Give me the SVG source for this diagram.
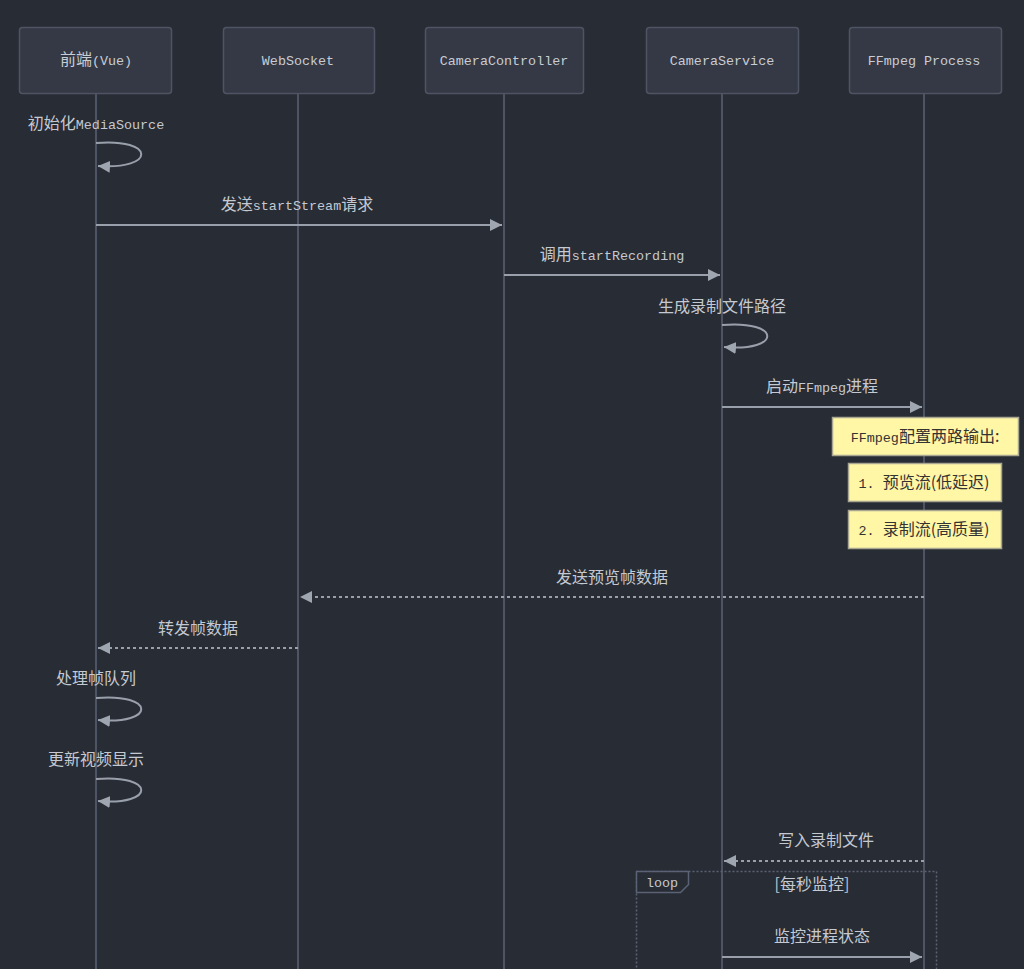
<svg xmlns="http://www.w3.org/2000/svg" width="1024" height="969" viewBox="0 0 1024 969">
<style>
.actor{fill:#353945;stroke:#4f5465;stroke-width:1.5}
.atext{font-family:"Liberation Mono","Noto Sans CJK SC",monospace;font-size:13.4px;fill:#c8ccd4;text-anchor:middle}
.life{stroke:#5c6275;stroke-width:1.5}
.lbl{font-family:"Noto Sans CJK SC","Liberation Mono",monospace;font-size:16px;fill:#c5c9d1;text-anchor:middle}
.lat{font-family:"Liberation Mono",monospace;font-size:13.4px}
.msg{stroke:#9aa0ab;stroke-width:2;fill:none}
.dash{stroke-dasharray:3,3}
.note{fill:#fff6a6;stroke:#a8a690;stroke-width:1.5}
.ntext{font-family:"Noto Sans CJK SC","Liberation Mono",monospace;font-size:16px;fill:#333333;text-anchor:middle}
.frame{fill:none;stroke:#5c6275;stroke-width:1.5;stroke-dasharray:2,2}
</style>
<defs>
<marker id="ah" viewBox="0 0 10 10" refX="10" refY="5" markerWidth="12" markerHeight="12" markerUnits="userSpaceOnUse" orient="auto">
<path d="M0,0 L10,5 L0,10 z" fill="#a0a6b0"/>
</marker>
</defs>
<rect width="1024" height="969" fill="#282c34"/>

<g id="lifelines">
<line class="life" x1="96" y1="93" x2="96" y2="969"/>
<line class="life" x1="298" y1="93" x2="298" y2="969"/>
<line class="life" x1="504" y1="93" x2="504" y2="969"/>
<line class="life" x1="722" y1="93" x2="722" y2="969"/>
<line class="life" x1="924" y1="93" x2="924" y2="969"/>
</g>

<g id="actor-frontend"><rect class="actor" x="19.5" y="27.5" width="152" height="66" rx="3"/><text class="atext" x="96" y="65"><tspan style="font-family:'Noto Sans CJK SC',sans-serif;font-size:16px">前端</tspan>(Vue)</text></g>
<g id="actor-websocket"><rect class="actor" x="223.5" y="27.5" width="151" height="66" rx="3"/><text class="atext" x="298" y="65">WebSocket</text></g>
<g id="actor-controller"><rect class="actor" x="425.5" y="27.5" width="158" height="66" rx="3"/><text class="atext" x="504" y="65">CameraController</text></g>
<g id="actor-service"><rect class="actor" x="646.5" y="27.5" width="152" height="66" rx="3"/><text class="atext" x="722" y="65">CameraService</text></g>
<g id="actor-ffmpeg"><rect class="actor" x="849.5" y="27.5" width="152" height="66" rx="3"/><text class="atext" x="924" y="65">FFmpeg Process</text></g>

<g id="loop-frame">
<rect class="frame" x="636.5" y="871.5" width="300" height="120"/>
<path d="M636.5,871.5 L688.5,871.5 L688.5,884.5 L680.5,892.5 L636.5,892.5 Z" fill="#282c34" stroke="#5c6275" stroke-width="1.5"/>
<text x="662" y="887" style="font-family:'Liberation Mono',monospace;font-size:13.4px;fill:#c5c9d1;text-anchor:middle">loop</text>
<text class="lbl" x="812" y="890">[每秒监控]</text>
</g>

<g id="notes">
<g id="note1"><rect class="note" x="832.5" y="417.5" width="186" height="38"/><text class="ntext" x="925" y="442"><tspan class="lat">FFmpeg</tspan>配置两路输出:</text></g>
<g id="note2"><rect class="note" x="848.5" y="463.5" width="153" height="38"/><text class="ntext" x="924" y="488"><tspan class="lat">1. </tspan>预览流(低延迟)</text></g>
<g id="note3"><rect class="note" x="848.5" y="510.5" width="153" height="38"/><text class="ntext" x="924" y="535"><tspan class="lat">2. </tspan>录制流(高质量)</text></g>
</g>

<g id="connectors">
<text class="lbl" x="96" y="129">初始化<tspan class="lat">MediaSource</tspan></text>
<path class="msg" d="M96,143 C156,138 156,170 98,166" marker-end="url(#ah)"/>

<text class="lbl" x="297" y="210">发送<tspan class="lat">startStream</tspan>请求</text>
<line class="msg" x1="96" y1="225" x2="502" y2="225" marker-end="url(#ah)"/>

<text class="lbl" x="612" y="260">调用<tspan class="lat">startRecording</tspan></text>
<line class="msg" x1="504" y1="275" x2="720" y2="275" marker-end="url(#ah)"/>

<text class="lbl" x="722" y="312">生成录制文件路径</text>
<path class="msg" d="M722,325 C782,320 782,352 724,347" marker-end="url(#ah)"/>

<text class="lbl" x="822" y="392">启动<tspan class="lat">FFmpeg</tspan>进程</text>
<line class="msg" x1="722" y1="407" x2="922" y2="407" marker-end="url(#ah)"/>

<text class="lbl" x="612" y="583">发送预览帧数据</text>
<line class="msg dash" x1="924" y1="597" x2="300" y2="597" marker-end="url(#ah)"/>

<text class="lbl" x="198" y="634">转发帧数据</text>
<line class="msg dash" x1="298" y1="648" x2="98" y2="648" marker-end="url(#ah)"/>

<text class="lbl" x="96" y="684">处理帧队列</text>
<path class="msg" d="M96,698 C156,693 156,725 98,720" marker-end="url(#ah)"/>

<text class="lbl" x="96" y="765">更新视频显示</text>
<path class="msg" d="M96,779 C156,774 156,806 98,801" marker-end="url(#ah)"/>

<text class="lbl" x="826" y="846">写入录制文件</text>
<line class="msg dash" x1="924" y1="861" x2="724" y2="861" marker-end="url(#ah)"/>

<text class="lbl" x="822" y="942">监控进程状态</text>
<line class="msg" x1="722" y1="957" x2="922" y2="957" marker-end="url(#ah)"/>
</g>
</svg>
